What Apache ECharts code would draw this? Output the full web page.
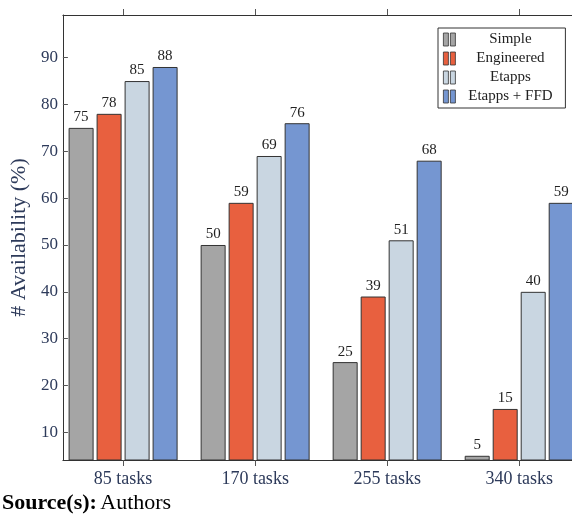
<!DOCTYPE html>
<html>
<head>
<meta charset="utf-8">
<script src="https://cdn.jsdelivr.net/npm/echarts@6/dist/echarts.min.js"></script>
<style>html,body{margin:0;padding:0;background:#fff;}#c{width:572px;height:514px;}</style>
</head>
<body>
<div id="c"></div>
<script>
const categories = ['85 tasks', '170 tasks', '255 tasks', '340 tasks'];
const seriesNames = ['Simple', 'Engineered', 'Etapps', 'Etapps + FFD'];
const simple = [75, 50, 25, 5];
const engineered = [78, 59, 39, 15];
const etapps = [85, 69, 51, 40];
const etappsFFD = [88, 76, 68, 59];
const yTicks = [10, 20, 30, 40, 50, 60, 70, 80, 90];
const colors = ['#A5A5A5', '#E8603F', '#C9D6E1', '#7596D1'];

const allValues = [simple, engineered, etapps, etappsFFD];
const xPos = categories.map((c, i) => i + 1);
const serif = "'Liberation Serif', 'DejaVu Serif', serif";

const chart = echarts.init(document.getElementById('c'));
chart.setOption({
  animation: false,
  backgroundColor: '#fff',
  grid: { left: 62, top: 15, right: 0, height: 445, containLabel: false },
  legend: {
    orient: 'vertical', left: 438, top: 28,
    padding: [4, 5, 4, 5],
    itemWidth: 12, itemHeight: 13, itemGap: 4,
    borderColor: '#333', borderWidth: 1, backgroundColor: '#fff',
    icon: 'path://M0,0h5v13h-5z M7,0h5v13h-5z',
    itemStyle: { borderWidth: 0.8 },
    data: seriesNames,
    formatter: '{a|{name}}',
    textStyle: { fontFamily: serif, fontSize: 15, lineHeight: 13, rich: { a: { width: 100, align: 'center', fontFamily: serif, fontSize: 15, color: '#222', lineHeight: 13 } } }
  },
  xAxis: [{
    type: 'value', min: 0.544, max: 4.4, position: 'bottom',
    splitLine: { show: false },
    axisLine: { show: true, lineStyle: { color: '#333', width: 1 } },
    axisTick: { show: true, inside: false, length: 6, customValues: xPos, lineStyle: { color: '#555' } },
    axisLabel: { customValues: xPos, formatter: v => categories[Math.round(v) - 1] || '', fontFamily: serif, fontSize: 18, color: '#2d3a5a', margin: 10 }
  }, {
    type: 'value', min: 0.544, max: 4.4, position: 'top',
    splitLine: { show: false },
    axisLine: { show: true, lineStyle: { color: '#333', width: 1 } },
    axisTick: { show: true, inside: false, length: 6, customValues: xPos, lineStyle: { color: '#555' } },
    axisLabel: { show: false }
  }],
  yAxis: [{
    type: 'value', min: 4.1, max: 99.1, position: 'left',
    name: '# Availability (%)', nameLocation: 'middle', nameRotate: 90, nameGap: 32,
    nameTextStyle: { fontFamily: serif, fontSize: 22, color: '#2d3a5a' },
    splitLine: { show: false },
    axisLine: { show: true, lineStyle: { color: '#333', width: 1 } },
    axisTick: { show: true, inside: true, length: 5, customValues: yTicks, lineStyle: { color: '#555' } },
    axisLabel: { customValues: yTicks, fontFamily: serif, fontSize: 17, color: '#2d3a5a', margin: 5 }
  }],
  series: seriesNames.map((name, s) => ({
    name: name, type: 'bar',
    barWidth: 25, barGap: '12%',
    data: allValues[s].map((v, i) => [xPos[i], v]),
    itemStyle: { color: colors[s], borderColor: '#333', borderWidth: 1 },
    label: { show: true, position: 'top', distance: 3, fontFamily: serif, fontSize: 15, color: '#222', formatter: p => p.value[1] }
  })),
  graphic: [{
    type: 'text', left: 2, top: 492,
    style: {
      text: '{b|Source(s):} {r|Authors}',
      rich: {
        b: { fontFamily: serif, fontWeight: 'bold', fontSize: 22, fill: '#000' },
        r: { fontFamily: serif, fontSize: 22, fill: '#000' }
      }
    }
  }]
});
</script>
</body>
</html>
